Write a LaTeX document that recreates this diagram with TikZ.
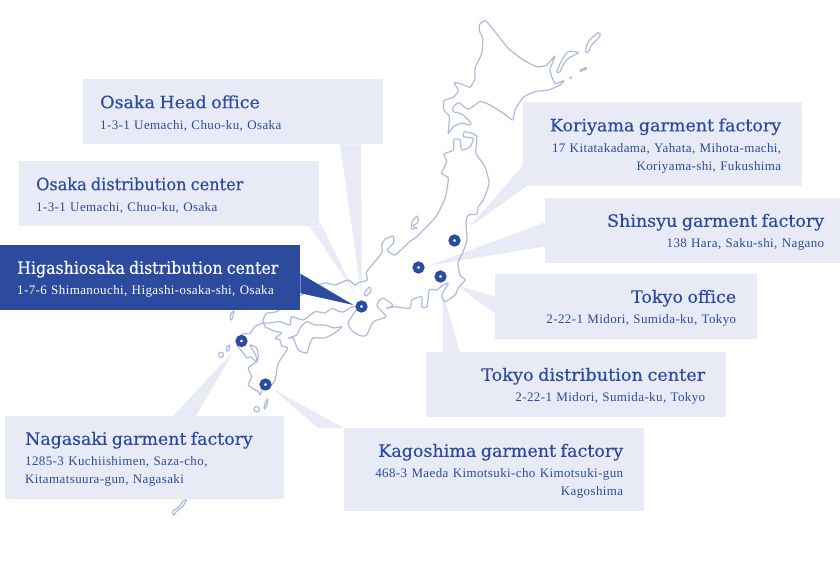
\documentclass[tikz,border=0pt]{standalone}
\usepackage{fontspec}
\setmainfont{Liberation Serif}
\newfontfamily\titlefont[FakeBold=0.3]{DejaVu Serif}
\newfontfamily\addrfont[LetterSpace=3]{Liberation Serif}
\definecolor{boxfill}{HTML}{E8EBF5}
\definecolor{boxblue}{HTML}{2C4B9F}
\definecolor{coast}{HTML}{AEBADD}
\newcommand{\officetext}[3][1.03]{\rule{0pt}{16pt}\scalebox{#1}[1]{\titlefont\fontsize{17}{22}\selectfont #2}\\[3pt]{\addrfont\fontsize{13}{18}\selectfont #3}}
\tikzset{
  infobox/.style = {fill=boxfill, text=boxblue, anchor=north west, inner ysep=0pt, minimum height=65pt, font=\fontsize{13}{18}\selectfont},
  leftbox/.style = {infobox, align=left, inner xsep=17pt},
  rightbox/.style = {infobox, align=right, inner xsep=21pt},
  activebox/.style = {leftbox, fill=boxblue, text=white},
  wedge/.style = {fill=boxfill},
  shore/.style = {draw=coast, line width=1.2pt, line join=round},
  marker/.style = {circle, draw=boxblue, line width=4.4pt, fill=white, inner sep=0pt, minimum size=7.6pt}
}
\begin{document}
\begin{tikzpicture}[x=1pt, y=-1pt]
  \useasboundingbox (0,0) rectangle (840,560);

  % info boxes
  \node[leftbox, text width=266pt] (head) at (83,79) {\officetext{Osaka Head office}{1-3-1 Uemachi, Chuo-ku, Osaka}};
  \node[leftbox, text width=266pt] (osakadc) at (19,161) {\officetext[0.95]{Osaka distribution center}{1-3-1 Uemachi, Chuo-ku, Osaka}};
  \node[rightbox, text width=237pt, minimum height=84pt] (koriyama) at (523,102) {\officetext{Koriyama garment factory}{17 Kitatakadama, Yahata, Mihota-machi,\\Koriyama-shi, Fukushima}};
  \node[rightbox, text width=263pt, inner xsep=16pt] (shinsyu) at (545,198) {\officetext{Shinsyu garment factory}{138 Hara, Saku-shi, Nagano}};
  \node[rightbox, text width=220pt] (tokyo) at (495,274) {\officetext{Tokyo office}{2-22-1 Midori, Sumida-ku, Tokyo}};
  \node[rightbox, text width=258pt] (tokyodc) at (426,352) {\officetext[1.04]{Tokyo distribution center}{2-22-1 Midori, Sumida-ku, Tokyo}};
  \node[rightbox, text width=258pt, minimum height=83pt] (kagoshima) at (344,428) {\officetext{Kagoshima garment factory}{468-3 Maeda Kimotsuki-cho Kimotsuki-gun\\Kagoshima}};
  \node[leftbox, text width=239pt, inner xsep=20pt, minimum height=83pt] (nagasaki) at (5,416) {\officetext[1.02]{Nagasaki garment factory}{1285-3 Kuchiishimen, Saza-cho,\\Kitamatsuura-gun, Nagasaki}};

  % tips of the callouts
  \coordinate (headtip) at (361.7,296);
  \coordinate (osakatip) at (356,295);
  \coordinate (higashitip) at (353.5,305);
  \coordinate (koriyamatip) at (468.3,228);
  \coordinate (shinsyutip) at (428.3,265.7);
  \coordinate (tokyotip) at (456,285);
  \coordinate (tokyodctip) at (442.7,293.3);
  \coordinate (kagoshimatip) at (273.3,389.3);
  \coordinate (nagasakitip) at (234,350.7);

  \fill[wedge] (headtip) -- ([xshift=257pt]head.south west) -- ([xshift=278pt]head.south west) -- cycle;
  \fill[wedge] (osakatip) -- ([xshift=291pt]osakadc.south west) -- (osakadc.south east) -- ([yshift=6pt]osakadc.south east) -- cycle;
  \fill[wedge] (koriyamatip) -- ([yshift=21pt]koriyama.south west) -- ([xshift=3.5pt]koriyama.south west) -- cycle;
  \fill[wedge] (shinsyutip) -- ([yshift=41pt]shinsyu.south west) -- ([yshift=17pt]shinsyu.south west) -- cycle;
  \fill[wedge] (tokyotip) -- ([yshift=43pt]tokyo.south west) -- ([yshift=26pt]tokyo.south west) -- cycle;
  \fill[wedge] (tokyodctip) -- ([xshift=17pt]tokyodc.north west) -- ([xshift=34pt]tokyodc.north west) -- cycle;
  \fill[wedge] (kagoshimatip) -- ([xshift=-26pt]kagoshima.north west) -- (kagoshima.north west) -- cycle;
  \fill[wedge] (nagasakitip) -- ([xshift=168pt]nagasaki.north west) -- ([xshift=191pt]nagasaki.north west) -- cycle;

  % coast lines
  \draw[shore] plot[smooth cycle, tension=0.35] coordinates {(485.7,20.7)(480,24)(479.3,30.7)(482.7,38.3)(481.7,53.3)(475,68.3)(475,78.3)(470,87.3)(461.7,84)(454.3,82.7)(458.3,90.7)(453.3,97.3)(444,100.7)(444,110)(449.3,116.7)(448.3,133.3)(453.3,126.7)(461.7,123.3)(470.7,125)(470,121.7)(461.7,114)(453.3,111.7)(453.3,106.7)(459.3,102.7)(468.3,109.3)(480,101.7)(490,105)(503.3,113.3)(512.7,120)(515,110)(523.3,97.3)(535,91.7)(548.3,90)(560,85)(564,80.7)(555,83.3)(550,70)(555,56)(546.7,65)(536.7,66.7)(523.3,60)(508.3,48.3)(495,31.7)};
  \draw[shore] plot[smooth cycle, tension=0.35] coordinates {(454,139.3)(460,140)(461.7,150)(470,146.7)(473.3,138.3)(463.3,136.7)(465,131.7)(476.7,136)(476,153.3)(485,166.7)(489,183.3)(483.3,200)(478.3,206.7)(476.7,214)(468.3,215)(466,223)(467,240)(463,251.7)(458,263)(460,275)(465,280)(458.3,288)(455,295)(445,301.7)(441.7,295)(448.3,283.3)(441.7,286)(436.7,290)(429.3,290)(427,306.7)(421.7,306.7)(421.7,296.7)(411.7,300)(410,308.3)(395,306.7)(386.7,308.3)(393,305)(383.3,298.3)(378.3,301.7)(377.3,306.7)(386,316.7)(373.3,321.7)(366.7,335)(361.7,336)(353,331.7)(348,323.3)(355,311.7)(358,306.7)(351.7,307)(343,312)(338,311)(331.7,308.3)(325,313)(315,311.7)(303.3,320)(291.7,316.7)(290,325)(280,321.7)(265,323.3)(263,320)(266.7,313.3)(276.7,311.7)(290,303)(311.7,288)(325,283)(335,285)(340,283)(348.3,280)(355,285)(358.3,282.7)(367.3,280)(366.7,271.7)(381.7,253)(381.7,245)(385,239.3)(393.3,236)(393.3,243)(387.3,250)(395,255)(408,243)(416.7,236.7)(423.3,230)(436,216.5)(445,198.3)(448.3,178.3)(441.7,173.3)(446.7,161.7)(444,154)(453.3,150)};
  \draw[shore] plot[smooth cycle, tension=0.35] coordinates {(263.3,323)(255,326.7)(250,333.3)(243.3,334)(238,338)(237,345)(243.3,353)(246.7,358)(250,356.7)(256.7,361.7)(255.7,355)(250,345)(256.7,348)(258.3,356.7)(256.7,361.7)(248.3,368)(251.7,376.7)(248.3,385)(258.3,391.7)(260,395)(263.3,388)(270,386.7)(275,380)(278.3,363.3)(287.7,348.3)(281.7,346)(280,340)(275,338.3)(281.7,333)(276.7,331.7)(271.7,330)(265,326.7)};
  \draw[shore] plot[smooth cycle, tension=0.35] coordinates {(288.3,338)(296.7,335)(300,328)(306.7,321.7)(315,325)(325,325)(334,328)(341.7,326.7)(336,332)(325,338)(313,338)(309,346)(306.7,353)(298.3,350)(293.3,338.3)};
  % islands
  \draw[shore] plot[smooth cycle, tension=0.5] coordinates {(556.7,71.7)(562,60)(568.3,51.7)(578.3,52.7)(568.3,58.3)(563,65)(560,71.7)};
  \draw[shore] plot[smooth cycle, tension=0.5] coordinates {(585.7,51.7)(588.3,41.7)(598.3,32.7)(600,36)(591.7,45)(588.3,51.7)};
  \draw[shore] (580,70) -- (586,67.3) -- (586.5,69) -- (580.5,71.5) -- cycle;
  \draw[shore] (570.7,77.7) circle (0.8);
  \draw[shore] plot[smooth cycle, tension=0.5] coordinates {(369.5,287)(371,291)(366,296)(364.5,293)};
  \draw[shore] plot[smooth cycle, tension=0.5] coordinates {(417.3,216)(418,222)(413,226)(417,228)(411.7,228.5)(412,222)};
  \draw[shore] plot[smooth cycle, tension=0.5] coordinates {(234,310.7)(233,316)(231.5,320)(230.2,319)(231,314)};
  \draw[shore] (221,354.7) circle (2.6);
  \draw[shore] plot[smooth cycle, tension=0.5] coordinates {(229.5,345)(229,350)(226.5,351)(227,347)};
  \draw[shore] (256.7,409.3) circle (2.8);
  \draw[shore] plot[smooth cycle, tension=0.5] coordinates {(267.7,399)(267,405)(264.5,409)(264.5,405)};
  \draw[shore] plot[smooth cycle, tension=0.5] coordinates {(186.5,500)(183,506)(176,512)(173.5,515.5)(173,511)(179,507)(183,501)};

  % active office on top of the map
  \node[activebox, text width=266pt] (higashi) at (0,245) {\officetext[0.93]{Higashiosaka distribution center}{1-7-6 Shimanouchi, Higashi-osaka-shi, Osaka}};
  \fill[boxblue] (higashitip) -- ([yshift=4pt]higashi.east) -- ([yshift=-15.5pt]higashi.east) -- cycle;

  % sites
  \node[marker] (sitehigashi) at (361.5,306.5) {};
  \node[marker] (sitenagasaki) at (241.5,341) {};
  \node[marker] (sitekagoshima) at (265.5,384.5) {};
  \node[marker] (sitekoriyama) at (454.5,240.5) {};
  \node[marker] (siteshinsyu) at (418.5,267.5) {};
  \node[marker] (sitetokyo) at (440.5,276.5) {};
\end{tikzpicture}
\end{document}
